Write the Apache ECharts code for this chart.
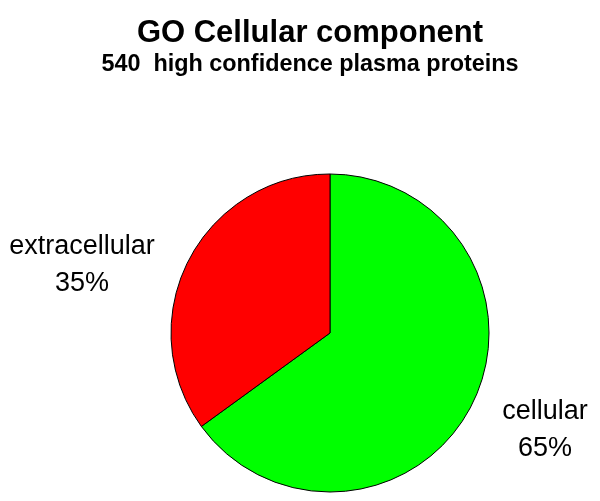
<!DOCTYPE html>
<html>
<head>
<meta charset="utf-8">
<script src="https://cdn.jsdelivr.net/npm/echarts@6/dist/echarts.min.js"></script>
<style>
  html, body { margin: 0; padding: 0; background: #fff; }
  #main { width: 600px; height: 501px; }
</style>
</head>
<body>
<div id="main"></div>
<script>
// data
const categories = ['cellular', 'extracellular']
const shares = [65, 35]
const colors = ['#00ff00', '#ff0000']

const chart = echarts.init(document.getElementById('main'))

// label spots for each slice (centre of the two-line text)
const labelSpots = [
  { x: 545, y: 430 },
  { x: 82, y: 265 }
]

const option = {
  animation: false,
  backgroundColor: '#fff',
  title: {
    text: 'GO Cellular component',
    subtext: '540  high confidence plasma proteins',
    left: 305,
    top: 13,
    textAlign: 'center',
    itemGap: 4,
    textStyle: {
      color: '#000',
      fontSize: 31,
      fontWeight: 'bold',
      fontFamily: 'Liberation Sans'
    },
    subtextStyle: {
      color: '#000',
      fontSize: 23.4,
      fontWeight: 'bold',
      fontFamily: 'Liberation Sans'
    }
  },
  series: [
    {
      type: 'pie',
      center: [330, 333],
      radius: 159,
      startAngle: 90,
      clockwise: true,
      silent: true,
      itemStyle: {
        borderColor: '#000',
        borderWidth: 1
      },
      label: {
        show: true,
        position: 'outside',
        formatter: '{b}\n{d}%',
        color: '#000',
        fontSize: 27,
        lineHeight: 37,
        fontFamily: 'Liberation Sans',
        align: 'center',
        overflow: 'none',
        width: 200
      },
      labelLine: { show: false },
      labelLayout: function (params) {
        const spot = labelSpots[params.dataIndex]
        return { x: spot.x, y: spot.y, align: 'center', verticalAlign: 'middle' }
      },
      data: categories.map(function (name, i) {
        return { name: name, value: shares[i], itemStyle: { color: colors[i] } }
      })
    }
  ]
}

chart.setOption(option)
</script>
</body>
</html>
